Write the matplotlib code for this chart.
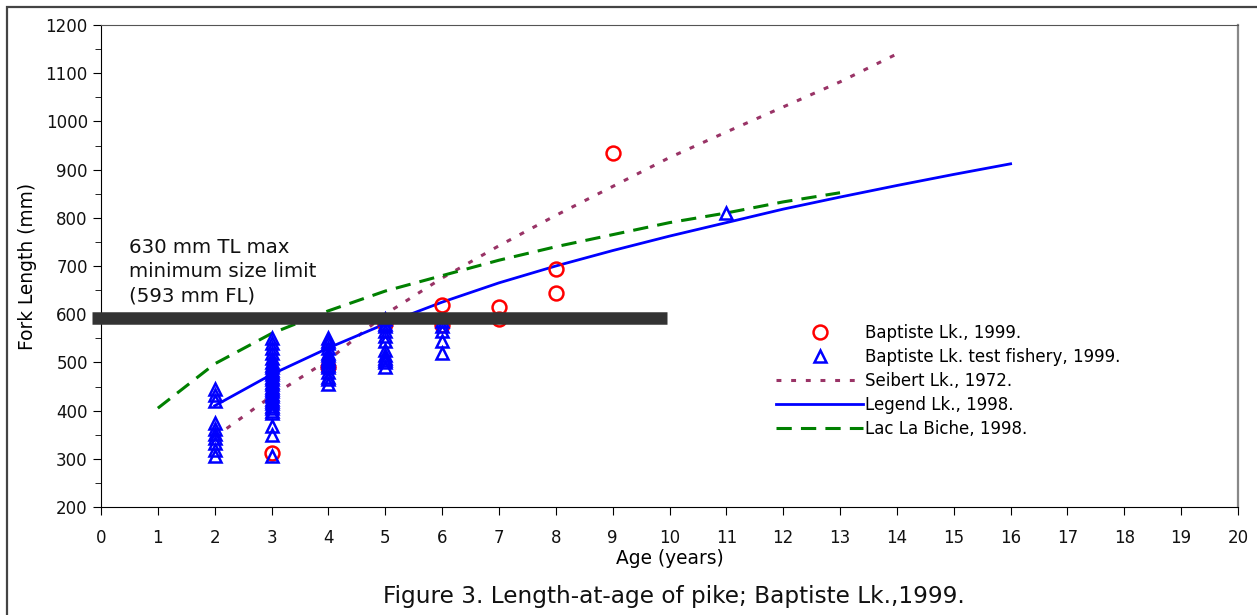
import matplotlib
matplotlib.use("Agg")
import matplotlib.pyplot as plt
from matplotlib.patches import Rectangle
import numpy as np

plt.rcParams["font.family"] = ["DejaVu Sans"]

# Baptiste Lk. 1999 (red circles)
bap_age = [3, 4, 5, 6, 6, 7, 7, 8, 8, 9]
bap_len = [313, 490, 580, 620, 578, 615, 590, 693, 645, 935]

# Baptiste Lk. test fishery 1999 (blue triangles)
tf_age = ([2] * 10 + [3] * 30 + [4] * 15 + [5] * 12 + [6] * 5 + [11])
tf_len = ([445, 432, 420, 375, 362, 352, 343, 333, 318, 305]
          + [550, 540, 530, 520, 510, 500, 495, 490, 485, 480, 475, 470, 465,
             460, 455, 450, 445, 440, 435, 430, 425, 420, 415, 410, 405, 400,
             395, 368, 350, 305]
          + [550, 545, 540, 530, 520, 515, 510, 505, 500, 495, 490, 480, 470,
             465, 455]
          + [590, 580, 575, 565, 555, 545, 525, 515, 510, 505, 500, 490]
          + [585, 575, 565, 545, 520]
          + [810])

# growth curves
seib_age = [2, 3, 4, 5, 6, 7, 8, 9, 10, 11, 12, 13, 14]
seib_len = [345, 430, 505, 600, 675, 742, 805, 865, 925, 978, 1030, 1082, 1140]

leg_age = [2, 3, 4, 5, 6, 7, 8, 9, 10, 11, 12, 13, 14, 15, 16]
leg_len = [410, 475, 530, 580, 625, 665, 700, 732, 762, 790, 818, 843, 867, 890, 912]

llb_age = [1, 2, 3, 4, 5, 6, 7, 8, 9, 10, 11, 12, 13]
llb_len = [405, 497, 560, 607, 648, 680, 712, 740, 765, 790, 810, 833, 852]

limit_fl = 593
limit_x = [-0.15, 9.95]

fig = plt.figure(figsize=(12.57, 6.15), dpi=100)
ax = fig.add_axes([101 / 1257, 1 - 507 / 615, 1137 / 1257, 482 / 615])

ax.plot(bap_age, bap_len, 'o', ms=10, mfc='none', mec='red', mew=1.8,
        label="Baptiste Lk., 1999.", zorder=3)
ax.plot(tf_age, tf_len, '^', ms=8, mfc='none', mec='blue', mew=1.8,
        label="Baptiste Lk. test fishery, 1999.", zorder=3)
ax.plot(seib_age, seib_len, color='#993366', lw=2.2, ls=(0, (1.6, 3.2)),
        label="Seibert Lk., 1972.", zorder=2)
ax.plot(leg_age, leg_len, color='blue', lw=2, label="Legend Lk., 1998.", zorder=2)
ax.plot(llb_age, llb_len, color='green', lw=2.2, ls=(0, (5, 3)),
        label="Lac La Biche, 1998.", zorder=2)

ax.plot(limit_x, [limit_fl, limit_fl], color='#333333', lw=9,
        solid_capstyle='butt', zorder=5, clip_on=False)
ax.text(0.5, 688, "630 mm TL max\nminimum size limit\n(593 mm FL)",
        fontsize=14.2, va='center', ha='left', linespacing=1.38, color='#111111')

ax.set_xlim(0, 20)
ax.set_ylim(200, 1200)
ax.set_xticks(np.arange(0, 21, 1))
ax.set_yticks(np.arange(200, 1201, 100))
ax.set_yticks(np.arange(250, 1200, 100), minor=True)
ax.tick_params(axis='both', which='major', direction='out', length=6,
               labelsize=12, colors='black', labelcolor='#111111')
ax.tick_params(axis='y', which='minor', direction='out', length=4)
ax.tick_params(axis='x', pad=10)

ax.spines['top'].set_color('#555555')
ax.spines['right'].set_color('#888888')
ax.spines['right'].set_linewidth(1.6)

ax.set_xlabel("Age (years)", fontsize=13.4, labelpad=1)
ax.set_ylabel("Fork Length (mm)", fontsize=13.4, labelpad=6)

leg = ax.legend(loc='upper left', bbox_to_anchor=(0.594, 0.38), frameon=False,
                fontsize=12, handlelength=5.2, handletextpad=0.1,
                labelspacing=0.36, borderpad=0, borderaxespad=0)

fig.text(674 / 1257, 1 - 597 / 615, "Figure 3. Length-at-age of pike; Baptiste Lk.,1999.",
         fontsize=16.7, ha='center', va='center', color='#111111')

# outer frame of the figure
fig.patches.append(Rectangle((7 / 1257, -0.2), 1.2, 1.2 - 7 / 615,
                             transform=fig.transFigure, fill=False,
                             edgecolor='#444444', lw=1.6))

fig.savefig("out.png", dpi=100)
